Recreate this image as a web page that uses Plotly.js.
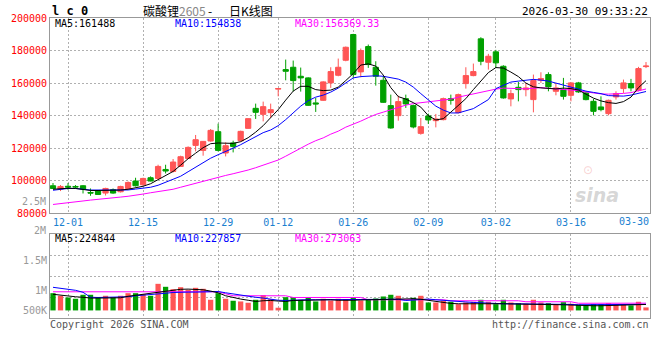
<!DOCTYPE html>
<html><head><meta charset="utf-8">
<script src="https://cdn.plot.ly/plotly-3.0.1.min.js"></script>
<style>html,body{margin:0;padding:0;background:#fff;}#chart{width:660px;height:360px;}</style>
</head><body><div id="chart"></div>
<script>
// ---- data ----
const dates = ['11-27','11-28',
 '12-01','12-02','12-03','12-04','12-05','12-08','12-09','12-10','12-11','12-12',
 '12-15','12-16','12-17','12-18','12-19','12-22','12-23','12-24','12-25','12-26',
 '12-29','12-30','12-31','01-05','01-06','01-07','01-08','01-09',
 '01-12','01-13','01-14','01-15','01-16','01-19','01-20','01-21','01-22','01-23',
 '01-26','01-27','01-28','01-29','01-30','02-02','02-03','02-04','02-05','02-06',
 '02-09','02-10','02-11','02-12','02-13','02-24','02-25','02-26','02-27',
 '03-02','03-03','03-04','03-05','03-06','03-09','03-10','03-11','03-12','03-13',
 '03-16','03-17','03-18','03-19','03-20','03-23','03-24','03-25','03-26','03-27','03-30'];

const open = [96920,94900,96620,96490,96920,92800,93660,92430,94460,93230,
 95260,99820,97540,101850,101420,106950,105720,108800,113720,121720,
 118650,124430,130150,117050,123200,124620,132190,144500,140800,141850,
 156310,168310,169730,164190,163200,147820,149420,160130,164800,174030,
 189850,166890,182460,169730,161720,146160,140000,150460,146160,129110,
 139820,136920,137540,150460,141850,159700,164620,187200,172800,179200,
 170340,150280,157420,155990,149850,161720,165230,154960,155990,152490,
 160130,153970,148800,145360,141230,151510,156620,159700,155570,170150];
const high = [98590,97360,98590,97360,97360,95260,94030,95690,95260,96920,
 99570,101850,101850,102670,109850,109850,113360,115390,121110,128120,
 124400,131800,135080,123570,124620,130770,138340,147390,148620,147390,
 156800,174460,173850,169540,163570,150890,161110,169730,175080,182460,
 190280,181230,183690,173420,164190,152930,152310,152930,146770,138590,
 141230,141050,151080,152930,153540,169730,172000,188190,177970,180430,
 170960,155990,160740,160130,165230,166650,166650,160130,163200,160490,
 160740,154800,150280,151880,149850,154960,162160,162590,169970,172930];
const low = [95080,93660,94460,95260,92180,90770,91390,90950,92000,92800,
 94900,96490,96920,99600,100620,104490,105110,108430,113360,118030,
 115390,124000,118030,114960,117420,124190,132000,137970,136490,138590,
 151880,161720,154960,154770,145970,142280,149050,157050,164190,173420,
 163200,163570,169360,158460,147820,132000,136920,144740,132190,128310,
 134890,132800,137110,146770,141420,156620,164190,170960,168310,169360,
 150460,145730,148800,151880,142040,160130,154960,152490,149850,148800,
 153970,149420,140190,142650,140190,149850,153970,154960,154960,169230];
const close = [95260,96500,96130,96190,94900,92430,91570,95260,92430,96490,
 98950,96920,101420,99820,108800,105970,111510,114770,120490,125230,
 124190,130960,118650,121540,121110,130340,138160,142040,145540,143700,
 156620,167260,161540,163200,146340,147200,160740,167080,169730,182030,
 165230,180000,171390,164190,148190,132430,148620,147200,133050,133230,
 137360,137970,150460,149420,152920,164620,167080,173420,176490,172430,
 150890,153540,156000,157040,161540,162770,157660,157040,151880,160130,
 154590,149850,142650,143690,149420,153540,160130,157040,168930,170460];

const ma5 = [94770,95260,95390,95260,94460,94030,94030,94030,94160,94280,
 94770,95690,96620,98160,100620,103080,105720,109540,113540,116920,
 120310,122770,123200,123080,122960,124000,126460,129850,133850,138770,
 143690,149540,155080,158030,158030,156000,155380,155690,157540,161540,
 165850,171080,171820,170460,164920,157230,151690,150150,148000,145230,
 140000,137350,138150,142150,146160,150460,156000,161540,166460,169540,
 169230,166770,164000,160000,157720,157050,156620,156430,156920,156620,
 155690,153230,150770,149050,148000,147510,148620,151390,157230,161488];
const ma10 = [94160,94770,95260,95260,94770,94280,94280,94280,94280,94280,
 94340,94890,95510,96000,97230,99080,100620,102770,105540,108310,
 111390,113850,116000,117850,120000,122160,124620,127390,129540,131200,
 133850,137540,141660,145850,149230,151380,152620,154460,156920,160310,
 163200,164000,164430,164490,164190,163510,162460,160620,157540,153540,
 149540,145850,143390,141660,141660,142770,144310,147080,149850,156620,
 158770,160620,161230,161850,162280,161850,161230,160000,158770,157230,
 156000,155080,154280,153540,152310,152000,152000,152620,153540,154838];
const ma30 = [85420,85850,86280,86890,87570,88120,88490,89110,89540,89970,
 90460,91020,91820,92620,93230,93970,94770,96000,97230,98460,
 99690,101230,102160,103260,104310,105230,106590,108000,109540,111080,
 112740,115080,117660,120310,122460,124620,126340,128620,130460,132920,
 134650,136620,138770,140740,142160,143690,145230,146460,147390,148000,
 148490,148920,149540,150160,151380,152430,153540,154340,155260,156310,
 156920,156920,156620,156430,156920,157230,156800,156430,156120,155820,
 155390,154590,153850,153350,153230,153350,153660,154150,155080,156369.33];

const volume = [649000,551000,488000,439000,589000,589000,488000,551000,488000,551000,
 649000,649000,611000,551000,1001000,889000,799000,874000,776000,851000,
 814000,401000,649000,439000,364000,338000,289000,401000,574000,424000,
 101000,499000,499000,401000,499000,338000,439000,375000,439000,424000,
 499000,375000,424000,450000,525000,589000,551000,300000,476000,551000,
 300000,300000,364000,326000,236000,300000,326000,401000,326000,236000,
 401000,300000,274000,251000,401000,300000,274000,236000,311000,251000,
 214000,188000,236000,236000,274000,236000,236000,188000,326000,113000];
const vma5 = [607500,570000,540000,513750,495000,465000,465000,465000,465000,476250,
 532500,570000,588750,626250,663750,701250,738750,795000,802500,795000,
 776250,727500,663750,551250,476250,427500,382500,337500,363750,375000,
 352500,337500,375000,382500,401250,401250,401250,401250,382500,375000,
 382500,393750,401250,412500,427500,427500,427500,457500,438750,420000,
 382500,326250,288750,262500,251250,251250,251250,262500,277500,262500,
 251250,243750,240000,240000,251250,243750,240000,228750,213750,202500,
 187500,176250,176250,176250,183750,195000,202500,213750,213750,224844];
const vma10 = [870000,840000,802500,757500,682500,495000,487500,487500,487500,487500,
 513750,551250,570000,607500,626250,645000,675000,690000,690000,690000,
 690000,701250,712500,663750,615000,570000,525000,495000,465000,427500,
 382500,375000,390000,401250,401250,401250,401250,420000,401250,401250,
 401250,412500,420000,427500,427500,427500,420000,375000,390000,412500,
 427500,401250,375000,356250,337500,318750,300000,281250,262500,251250,
 251250,251250,251250,243750,240000,240000,240000,240000,232500,225000,
 213750,213750,213750,213750,213750,213750,213750,213750,221250,227857];
const vma30 = [701250,701250,701250,701250,701250,701250,701250,701250,701250,701250,
 701250,701250,701250,701250,701250,701250,701250,701250,701250,701250,
 701250,701250,701250,626250,551250,551250,551250,551250,551250,551250,
 551250,551250,487500,487500,487500,487500,487500,487500,487500,487500,
 487500,487500,401250,401250,401250,401250,401250,401250,401250,401250,
 401250,401250,401250,363750,363750,363750,363750,363750,363750,363750,
 363750,363750,363750,326250,326250,326250,326250,326250,326250,326250,
 270000,270000,270000,270000,270000,270000,270000,270000,270000,273063];

const tickDates = ['12-01','12-15','12-29','01-12','01-26','02-09','03-02','03-16'];
const lastDate = '03-30';
const priceTicks = [80000,100000,120000,140000,160000,180000,200000];
const volTickVals = [0, 750000, 1875000];
const volTickText = ['500K','1M','1.5M'];

// ---- styling ----
const UP = '#ff5555', DOWN = '#00a000';
const GRID = '#b0b0b0', FRAME = '#999999';
const MONO = 'DejaVu Sans Mono, Liberation Mono, monospace';
const CJK = 'Noto Sans CJK SC, sans-serif';
const idx = dates.map((d, i) => i);
const tickIdx = tickDates.map(d => dates.indexOf(d));
const vMin = -285000, vMax = 2876000;
const vGrid = [1, 2, 3].map(k => vMin + (vMax - vMin) * k / 4);

const traces = [
  {type: 'candlestick', x: idx, open, high, low, close, xaxis: 'x', yaxis: 'y',
   increasing: {line: {color: UP, width: 1}, fillcolor: UP},
   decreasing: {line: {color: DOWN, width: 1}, fillcolor: DOWN},
   whiskerwidth: 0, hoverinfo: 'skip'},
  {type: 'scatter', mode: 'lines', x: idx, y: ma30, line: {color: '#ff00ff', width: 1}, xaxis: 'x', yaxis: 'y', hoverinfo: 'skip'},
  {type: 'scatter', mode: 'lines', x: idx, y: ma10, line: {color: '#0000ff', width: 1}, xaxis: 'x', yaxis: 'y', hoverinfo: 'skip'},
  {type: 'scatter', mode: 'lines', x: idx, y: ma5, line: {color: '#000000', width: 1}, xaxis: 'x', yaxis: 'y', hoverinfo: 'skip'},
  {type: 'bar', x: idx, y: volume, width: 0.7, xaxis: 'x2', yaxis: 'y2',
   marker: {color: idx.map(i => close[i] >= open[i] ? UP : DOWN), line: {width: 0}}, hoverinfo: 'skip'},
  {type: 'scatter', mode: 'lines', x: idx, y: vma30, line: {color: '#ff00ff', width: 1}, xaxis: 'x2', yaxis: 'y2', hoverinfo: 'skip'},
  {type: 'scatter', mode: 'lines', x: idx, y: vma10, line: {color: '#0000ff', width: 1}, xaxis: 'x2', yaxis: 'y2', hoverinfo: 'skip'},
  {type: 'scatter', mode: 'lines', x: idx, y: vma5, line: {color: '#000000', width: 1}, xaxis: 'x2', yaxis: 'y2', hoverinfo: 'skip'}
];

const frame = {showline: true, mirror: true, linecolor: FRAME, linewidth: 1, zeroline: false, fixedrange: true};
const gridStyle = {showgrid: true, gridcolor: GRID, gridwidth: 1, griddash: '2px,2px'};

const yPx = p => (318 - p) / 300;   // page pixel -> paper y
const xPx = p => (p - 50) / 600;    // page pixel -> paper x
const last = a => a[a.length - 1];

const ann = (text, x, y, color, extra) => Object.assign({
  text, x, y, xref: 'paper', yref: 'paper', showarrow: false, xanchor: 'left', yanchor: 'middle',
  font: {family: MONO, size: 10, color}}, extra || {});

const annotations = [
  ann('<b>l c 0</b>', xPx(50), yPx(10.5), '#000', {font: {family: MONO, size: 12, color: '#000'}}),
  ann('碳酸锂<span style="color:#888">2605</span>', xPx(141), yPx(10), '#000',
      {font: {family: CJK, size: 12, color: '#000'}}),
  ann('-', xPx(206), yPx(10), '#000', {font: {family: CJK, size: 12, color: '#000'}}),
  ann('日K线图', xPx(227), yPx(10), '#000', {font: {family: CJK, size: 12, color: '#000'}}),
  ann('2026-03-30 09:33:22', xPx(650), yPx(11.5), '#000', {xanchor: 'right', font: {family: MONO, size: 11, color: '#000'}}),
  ann('MA5:' + last(ma5), xPx(53), yPx(23.5), '#000'),
  ann('MA10:' + last(ma10), xPx(173), yPx(23.5), '#0000ff'),
  ann('MA30:' + last(ma30), xPx(293), yPx(23.5), '#ff00ff'),
  ann('MA5:' + last(vma5), xPx(53), yPx(238.5), '#000'),
  ann('MA10:' + last(vma10), xPx(173), yPx(238.5), '#0000ff'),
  ann('MA30:' + last(vma30), xPx(293), yPx(238.5), '#ff00ff'),
  ann(lastDate, xPx(651), yPx(221.5), '#1a80d0', {xanchor: 'right'}),
  ann('2M', xPx(48), yPx(230.5), '#999', {xanchor: 'right'}),
  ann('2.5M', xPx(48), yPx(201.5), '#999', {xanchor: 'right'}),
  ann('Copyright 2026 SINA.COM', xPx(48), yPx(324), '#555'),
  ann('http://finance.sina.com.cn', xPx(651), yPx(324), '#555', {xanchor: 'right'}),
  ann('⊙', xPx(588), yPx(170), 'rgba(235,120,120,0.35)', {xanchor: 'center', borderpad: 0, font: {family: 'DejaVu Sans', size: 12, color: 'rgba(235,120,120,0.35)'}}),
  ann('<b><i>sina</i></b>', xPx(597), yPx(195), 'rgba(150,150,150,0.4)', {xanchor: 'center', borderpad: 0, font: {family: 'DejaVu Sans', size: 19, color: 'rgba(150,150,150,0.4)'}})
];

const layout = {
  width: 660, height: 360,
  margin: {l: 50, r: 10, t: 18, b: 42, pad: 0},
  paper_bgcolor: '#ffffff', plot_bgcolor: '#ffffff',
  showlegend: false, hovermode: false, dragmode: false,
  boxgap: 0.3, boxgroupgap: 0,
  font: {family: MONO, size: 10, color: '#000'},
  xaxis: Object.assign({}, frame, gridStyle, {domain: [0, 1], anchor: 'y', range: [-0.4, 79.533],
    tickmode: 'array', tickvals: tickIdx, ticktext: tickDates, ticks: '',
    tickfont: {family: MONO, size: 10, color: '#1a80d0'}, rangeslider: {visible: false}}),
  yaxis: Object.assign({}, frame, gridStyle, {domain: [0.349, 1], anchor: 'x', range: [80000, 200000],
    tickmode: 'array', tickvals: priceTicks, ticktext: priceTicks.map(String), ticks: '',
    tickfont: {family: MONO, size: 10, color: '#ff0000'}}),
  xaxis2: Object.assign({}, frame, gridStyle, {domain: [0, 1], anchor: 'y2', matches: 'x', range: [-0.4, 79.533],
    tickmode: 'array', tickvals: tickIdx, showticklabels: false, ticks: ''}),
  yaxis2: Object.assign({}, frame, {domain: [0, 0.28], anchor: 'x2', range: [vMin, vMax],
    tickmode: 'array', tickvals: volTickVals, ticktext: volTickText, ticks: '', showgrid: false,
    tickfont: {family: MONO, size: 10, color: '#999'},
    minor: {tickmode: 'array', tickvals: vGrid, showgrid: true, gridcolor: GRID, gridwidth: 1, griddash: '2px,2px', ticks: ''}}),
  annotations
};

Plotly.newPlot('chart', traces, layout, {staticPlot: true, displayModeBar: false});
</script>
</body></html>
